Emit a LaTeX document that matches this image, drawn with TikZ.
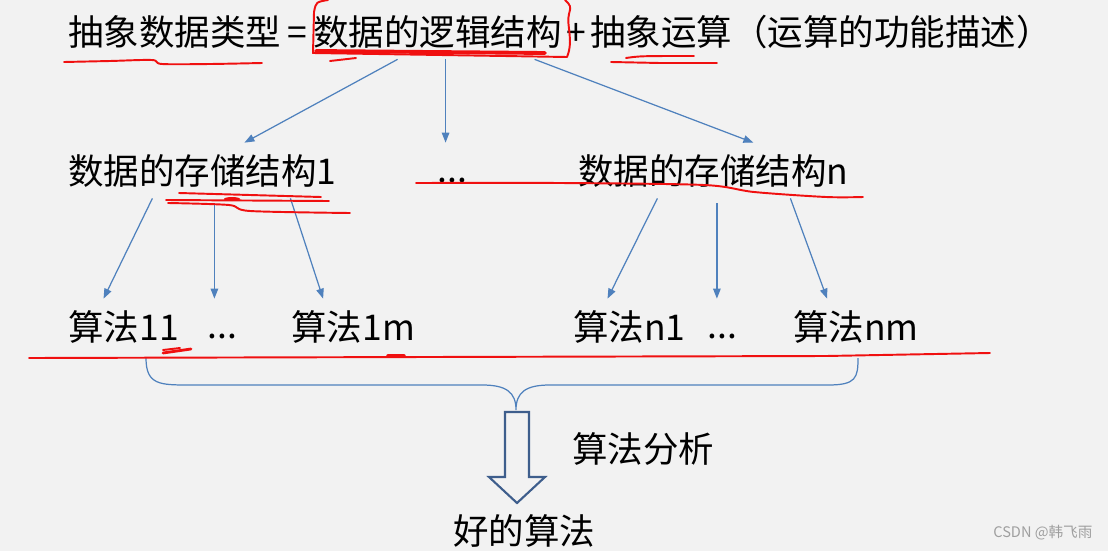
\documentclass[tikz,border=0pt]{standalone}
\usepackage{fontspec}
\setmainfont{Noto Sans CJK SC}
\usepackage{xcolor}
\usepackage{tikz}
\usetikzlibrary{arrows.meta, positioning, calc}
\definecolor{slidebg}{RGB}{242,242,242}
\definecolor{linkblue}{RGB}{79,129,189}
\definecolor{hollowblue}{RGB}{62,94,140}
\definecolor{markred}{RGB}{240,16,16}

\begin{document}
\begin{tikzpicture}[x=0.02cm, y=-0.02cm,
    txt/.style={inner xsep=0pt, inner ysep=0.2cm, text height=0.62cm, text depth=0.08cm, anchor=base west, font=\fontsize{20.2}{24}\selectfont},
    link/.style={draw=linkblue, line width=0.7pt, -{Triangle[length=2mm, width=1.5mm]}},
    pen/.style={markred, line width=1.1pt, line cap=round, line join=round}]
      \useasboundingbox (0,0) rectangle (1108,551);
      \fill[slidebg] (0,0) rectangle (1108,551);

      % Top line
      \node[txt] (adt) at (68,45) {抽象数据类型};
      \node[txt, anchor=base] (eq) at (297,45) {=};
      \node[txt] (logic) at (313,45) {数据的逻辑结构};
      \node[txt, anchor=base] (plus) at (576,45) {+};
      \node[txt] (ops) at (590,45) {抽象运算（运算的功能描述）};

      % Storage structures
      \node[txt] (st1) at (68,184) {数据的存储结构1};
      \node[txt] (dots0) at (437,182) {...};
      \node[txt] (stn) at (578,184) {数据的存储结构n};

      % Algorithms
      \node[txt] (a11) at (68,340) {算法11};
      \node[txt] (dots1) at (207,338) {...};
      \node[txt] (a1m) at (291,340) {算法1m};
      \node[txt] (an1) at (573,340) {算法n1};
      \node[txt] (dots2) at (707,338) {...};
      \node[txt] (anm) at (793,340) {算法nm};

      % Result
      \node[txt] (anal) at (572,462) {算法分析};
      \node[txt] (good) at (453,544) {好的算法};

      % Arrows
      \coordinate (m0) at ($(logic.south)+(8,0)$);
      \coordinate (m1) at ($(st1.south)+(12,5)$);
      \coordinate (m2) at ($(stn.south)+(3.5,5)$);
      \draw[link] ($(logic.south)+(-40,0)$) -- ($(st1.north)+(42,0)$);
      \draw[link] (m0) -- ($(m0 |- st1.north)$);
      \draw[link] ($(logic.south)+(97,0)$) -- ($(stn.north)+(40,0)$);
      \draw[link] ($(st1.south)+(-50,0)$) -- ($(a11.north)+(-20,0)$);
      \draw[link] (m1) -- ($(m1 |- a11.north)$);
      \draw[link] ($(st1.south)+(88,0)$) -- ($(a1m.north)+(-30,0)$);
      \draw[link] ($(stn.south)+(-56,0)$) -- ($(an1.north)+(-22,0)$);
      \draw[link] (m2) -- ($(m2 |- an1.north)$);
      \draw[link] ($(stn.south)+(77,0)$) -- ($(anm.north)+(-29,0)$);

      % Brace and hollow arrow
      \draw[linkblue, line width=0.7pt] (146,358) .. controls (146,385) and (160,385) .. (190,385) -- (482,385)
        .. controls (506,385) and (516,392) .. (516,410) .. controls (516,392) and (526,385) .. (550,385)
        -- (828,385) .. controls (856,385) and (858,378) .. (858,358);
      \draw[hollowblue, line width=1.2pt] (505,412) -- (529,412) -- (529,477) -- (545,477) -- (517,503) -- (489,477) -- (505,477) -- cycle;

      % Watermark
      \node[anchor=base west, inner sep=0pt, text=gray!75, font=\fontsize{8.3}{10}\selectfont] (mark) at (993,537) {CSDN @韩飞雨};

      % Red pen marks
      \draw[pen] plot[smooth] coordinates {(64,62) (110,61) (152,60) (162,64) (210,64) (262,63)};
      \draw[pen] (328,0) .. controls (316,2) .. (314,12) -- (313,53) -- (567,57) .. controls (574,40) and (566,25) .. (569,14) .. controls (571,6) .. (565,0);
      \draw[pen, line width=2.2pt] (316,51) -- (545,53);
      \draw[pen] (330,61) -- (356,58);
      \draw[pen] (611,62) -- (660,63) -- (717,63);
      \draw[pen] (626,58) .. controls (640,56) .. (694,56);
      \draw[pen] (179,193) -- (321,197);
      \draw[pen] (166,200) -- (329,201);
      \draw[pen] plot[smooth] coordinates {(168,203) (229,205) (250,211) (350,213)};
      \fill[markred] (232,199) ellipse (8 and 2);
      \draw[pen] plot[smooth] coordinates {(416,183) (560,183) (704,185) (754,192) (826,197) (863,197)};
      \draw[pen] (29,358) -- (826,356) -- (990,353);
      \draw[pen, line width=1.6pt] (163,353) -- (191,349);
      \draw[pen] (163,350) -- (180,348);
      \draw[pen, line width=2pt] (388,356) -- (404,356);
\end{tikzpicture}
\end{document}
